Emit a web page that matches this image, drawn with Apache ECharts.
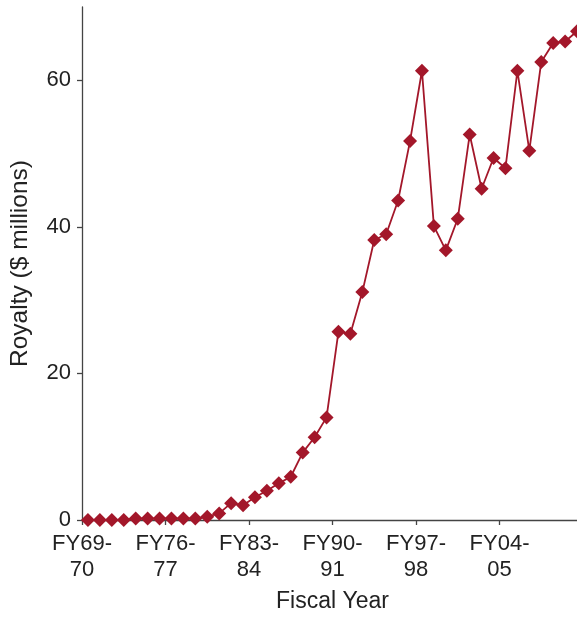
<!DOCTYPE html>
<html>
<head>
<meta charset="utf-8">
<script src="https://cdn.jsdelivr.net/npm/echarts@6/dist/echarts.min.js"></script>
<style>
  html, body { margin: 0; padding: 0; background: #fff; }
  #chart { width: 577px; height: 617px; }
</style>
</head>
<body>
<div id="chart"></div>
<script>
// Fiscal years (start year of each fiscal year), FY69-70 .. FY10-11
var fiscalYearStarts = [1969,1970,1971,1972,1973,1974,1975,1976,1977,1978,1979,1980,1981,1982,1983,1984,1985,1986,1987,1988,1989,1990,1991,1992,1993,1994,1995,1996,1997,1998,1999,2000,2001,2002,2003,2004,2005,2006,2007,2008,2009,2010];
// Royalty in $ millions
var royalty = [0,0,0,0,0.2,0.2,0.2,0.2,0.2,0.2,0.45,0.9,2.3,2.0,3.1,4.0,5.0,5.9,9.2,11.3,14.0,25.7,25.4,31.1,38.2,39.0,43.6,51.7,61.3,40.1,36.8,41.1,52.6,45.2,49.4,48.0,61.3,50.4,62.5,65.1,65.3,66.7];
// X tick labels (every 7 fiscal years)
var xTickYears = [1969,1976,1983,1990,1997,2004,2011];
var xTickLabels = ['FY69-\n70','FY76-\n77','FY83-\n84','FY90-\n91','FY97-\n98','FY04-\n05','FY11-\n12'];
var yTickValues = [0,20,40,60];

var points = fiscalYearStarts.map(function (y, i) { return [y + 0.5, royalty[i]]; });

var font = "'Liberation Sans', Arial, Helvetica, sans-serif";
var axisColor = '#444';
var textColor = '#222';
var markColor = '#A3172A';

var chart = echarts.init(document.getElementById('chart'), null, { renderer: 'canvas' });
chart.setOption({
  animation: false,
  backgroundColor: '#fff',
  grid: { left: 82, top: 7, width: 501, bottom: 97, containLabel: false, outerBoundsMode: 'none' },
  xAxis: {
    type: 'value',
    min: 1969,
    max: 2011,
    interval: 7,
    name: 'Fiscal Year',
    nameLocation: 'middle',
    nameGap: 70,
    nameTextStyle: { fontFamily: font, fontSize: 23, color: textColor },
    axisLine: { show: true, lineStyle: { color: axisColor, width: 1.3 } },
    axisTick: { show: true, inside: false, length: 5, lineStyle: { color: axisColor, width: 1.3 } },
    splitLine: { show: false },
    axisLabel: {
      fontFamily: font, fontSize: 22, color: textColor, margin: 11, lineHeight: 26,
      showMaxLabel: false,
      formatter: function (v) {
        var idx = xTickYears.indexOf(Math.round(v));
        return idx >= 0 ? xTickLabels[idx] : '';
      }
    }
  },
  yAxis: {
    type: 'value',
    min: 0,
    max: 70,
    interval: 20,
    name: 'Royalty ($ millions)',
    nameLocation: 'middle',
    nameGap: 49,
    nameTextStyle: { fontFamily: font, fontSize: 24.5, color: textColor },
    axisLine: { show: true, lineStyle: { color: axisColor, width: 1.3 } },
    axisTick: { show: true, inside: false, length: 5, customValues: yTickValues, lineStyle: { color: axisColor, width: 1.3 } },
    splitLine: { show: false },
    axisLabel: { fontFamily: font, fontSize: 22, color: textColor, margin: 11, customValues: yTickValues }
  },
  series: [{
    type: 'line',
    data: points,
    symbol: 'diamond',
    symbolSize: 14,
    clip: false,
    lineStyle: { color: markColor, width: 1.8 },
    itemStyle: { color: markColor }
  }]
});
</script>
</body>
</html>
